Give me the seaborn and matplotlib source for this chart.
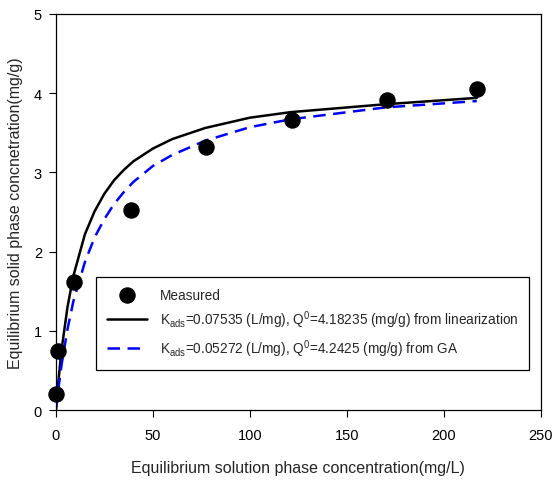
import numpy as np
import pandas as pd
import matplotlib
matplotlib.use("Agg")
import matplotlib.pyplot as plt
import seaborn as sns

# Measured data
meas_x = [0.0, 0.9, 9.1, 38.8, 77.3, 121.5, 170.7, 217.0]
meas_y = [0.20, 0.75, 1.62, 2.52, 3.32, 3.66, 3.91, 4.05]

# Curve read-offs
curve_x = [0, 1, 3, 6, 9, 15, 20, 25, 30, 35, 40, 50, 60, 77, 100, 121, 170, 217]
lin_y = [0.0, 0.29, 0.77, 1.30, 1.69, 2.22, 2.51, 2.73, 2.90, 3.03, 3.14, 3.30, 3.42, 3.56, 3.69, 3.76, 3.86, 3.94]
ga_y = [0.0, 0.21, 0.58, 1.02, 1.37, 1.87, 2.18, 2.41, 2.60, 2.75, 2.88, 3.08, 3.22, 3.40, 3.57, 3.67, 3.82, 3.90]

lbl_meas = "Measured"
lbl_lin = r"K$_{\mathrm{ads}}$=0.07535 (L/mg), Q$^{\mathrm{0}}$=4.18235 (mg/g) from linearization"
lbl_ga = r"K$_{\mathrm{ads}}$=0.05272 (L/mg), Q$^{\mathrm{0}}$=4.2425 (mg/g) from GA"

sns.set_style("white")
plt.rcParams["font.family"] = ["Liberation Sans", "DejaVu Sans"]
plt.rcParams["mathtext.fontset"] = "custom"
plt.rcParams["mathtext.rm"] = "Liberation Sans"
plt.rcParams["mathtext.it"] = "Liberation Sans"

fig = plt.figure(figsize=(5.53, 4.81), dpi=100)
ax = fig.add_axes([0.101, 0.1455, 0.877, 0.8235])

df_meas = pd.DataFrame({"x": meas_x, "y": meas_y})
df_lin = pd.DataFrame({"x": curve_x, "y": lin_y})
df_ga = pd.DataFrame({"x": curve_x, "y": ga_y})

sns.lineplot(data=df_lin, x="x", y="y", ax=ax, color="black", lw=1.8, label=lbl_lin, sort=False)
sns.lineplot(data=df_ga, x="x", y="y", ax=ax, color="#0000FF", lw=1.8, label=lbl_ga, sort=False)
ax.lines[1].set_dashes([5, 3])
sns.scatterplot(data=df_meas, x="x", y="y", ax=ax, color="black", s=120, edgecolor="black",
                label=lbl_meas, clip_on=False, zorder=5)

ax.set_xlim(0, 250)
ax.set_ylim(0, 5)
ax.set_xticks([0, 50, 100, 150, 200, 250])
ax.set_yticks([0, 1, 2, 3, 4, 5])
ax.tick_params(axis="both", direction="out", length=5, width=0.8, labelsize=10.5, colors="black",
               bottom=True, left=True, top=False, right=False)
ax.tick_params(axis="x", pad=8)
ax.tick_params(axis="y", pad=5)
for s in ax.spines.values():
    s.set_color("black")
    s.set_linewidth(0.9)

ax.set_xlabel("Equilibrium solution phase concentration(mg/L)", fontsize=11.5, labelpad=13)
ax.set_ylabel("Equilibrium solid phase concnetration(mg/g)", fontsize=11.5, labelpad=8)

handles, labels = ax.get_legend_handles_labels()
order = [labels.index(lbl_meas), labels.index(lbl_lin), labels.index(lbl_ga)]
leg = ax.legend([handles[i] for i in order], [labels[i] for i in order],
                loc="upper left", bbox_to_anchor=(0.082, 0.336), fontsize=9.8,
                frameon=True, fancybox=False, edgecolor="black", framealpha=1,
                handlelength=3.0, borderpad=0.8, labelspacing=0.5, handletextpad=0.9,
                borderaxespad=0)
leg.get_frame().set_linewidth(0.9)

fig.savefig("out.png", dpi=100)
